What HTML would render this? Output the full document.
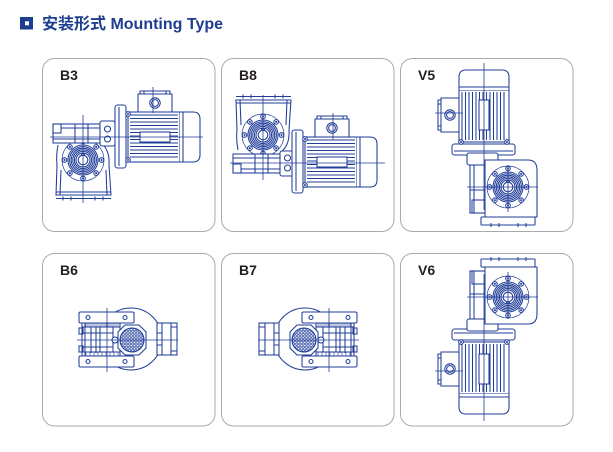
<!DOCTYPE html>
<html><head><meta charset="utf-8">
<style>
html,body{margin:0;padding:0;background:#fff;}
body{width:613px;height:452px;overflow:hidden;position:relative;}
svg{position:absolute;left:0;top:0;}
</style></head><body>
<svg width="613" height="452" viewBox="0 0 613 452" xmlns="http://www.w3.org/2000/svg">
<defs>
 <pattern id="mesh" width="3.2" height="3.2" patternUnits="userSpaceOnUse">
   <circle cx="1.6" cy="1.6" r="1.15" fill="none" stroke="#213d98" stroke-width="0.7"/>
 </pattern>
 <g id="bolt"><circle r="2.3" fill="#fff"/><circle r="1" fill="#213d98" stroke="none"/></g>
 <g id="gw">
  <circle r="21" fill="#fff" stroke-width="0.7"/>
  <circle r="15"/><circle r="13.4"/><circle r="11.8"/><circle r="10.2"/><circle r="8.6"/><circle r="7"/>
  <circle r="4.8"/>
  <path d="M-1.4 -4.6V-6.4H1.4V-4.6"/>
  <use href="#bolt" x="18.5" y="0"/><use href="#bolt" x="13.1" y="13.1"/>
  <use href="#bolt" x="0" y="18.5"/><use href="#bolt" x="-13.1" y="13.1"/>
  <use href="#bolt" x="-18.5" y="0"/><use href="#bolt" x="-13.1" y="-13.1"/>
  <use href="#bolt" x="0" y="-18.5"/><use href="#bolt" x="13.1" y="-13.1"/>
 </g>
 <g id="mh">
  <path d="M10 0V-18H12V-21H42V-18H44V0" fill="#fff"/>
  <path d="M12 -18H42M16 -21V-18M38 -21V-18"/>
  <circle cx="27" cy="-9" r="5.2"/><circle cx="27" cy="-9" r="3.4"/>
  <rect x="0" y="0" width="52" height="50" fill="#fff"/>
  <path d="M2 3H50M2 6.5H50M2 10H50M2 13.5H50M2 17H50M2 20.5H50M2 24H50M2 27.5H50M2 31H50M2 34.5H50M2 38H50M2 41.5H50M2 45H50"/>
  <rect x="12" y="20" width="30" height="10" fill="#fff"/>
  <path d="M52 0H65Q72 0 72 7V43Q72 50 65 50H52" fill="#fff"/>
  <path d="M55 0V50"/>
  <rect x="-13" y="-7" width="11" height="63" rx="2.5" fill="#fff"/>
  <path d="M-9 -5V54"/>
  <use href="#bolt" x="0" y="2"/><use href="#bolt" x="0" y="48"/>
 </g>
 <g id="wh">
  <rect x="-30" y="-13" width="47" height="19" fill="#fff"/>
  <rect x="-30" y="-13" width="8" height="9"/>
  <path d="M-22 -9H17M-30 2H17M-8 -13V6M5 -13V6"/>
  <rect x="17" y="-16" width="15" height="25" rx="2" fill="#fff"/>
  <circle cx="24.5" cy="-8" r="3"/><circle cx="24.5" cy="2" r="3"/>
 </g>
 <g id="hs">
  <path d="M-25 -15Q-27 -5 -26 5L-27 35H28L26 5Q27 -10 18 -17" fill="#fff"/>
  <path d="M-22 10L-23 35M23 10L24 35M-27 32H28"/>
  <path d="M-27 38.5H28M-20 36.5V40.5M-12 36.5V40.5M12 36.5V40.5M20 36.5V40.5"/>
 </g>
</defs>

<!-- title -->
<rect x="20" y="17" width="13" height="12.5" fill="#1d3e8f"/>
<rect x="25" y="21.3" width="4" height="4" fill="#fff"/>
<text x="42" y="29" font-family="'Liberation Sans','Noto Sans CJK SC',sans-serif" font-weight="bold" font-size="16" fill="#1d3e8f">安装形式 Mounting Type</text>

<!-- cards -->
<g fill="none" stroke="#aaaaaa" stroke-width="1">
 <rect x="42.5" y="58.5" width="172.5" height="173" rx="12"/>
 <rect x="221.5" y="58.5" width="172.5" height="173" rx="12"/>
 <rect x="400.5" y="58.5" width="172.5" height="173" rx="12"/>
 <rect x="42.5" y="253.5" width="172.5" height="172.5" rx="12"/>
 <rect x="221.5" y="253.5" width="172.5" height="172.5" rx="12"/>
 <rect x="400.5" y="253.5" width="172.5" height="172.5" rx="12"/>
</g>

<g font-family="'Liberation Sans',sans-serif" font-weight="bold" font-size="14" fill="#231f20">
 <text x="60" y="80">B3</text>
 <text x="239" y="80">B8</text>
 <text x="418" y="80">V5</text>
 <text x="60" y="275">B6</text>
 <text x="239" y="275">B7</text>
 <text x="418" y="275">V6</text>
</g>

<g fill="none" stroke="#213d98" stroke-width="1.05">
 <!-- B3 -->
 <use href="#hs" x="83" y="160"/>
 <use href="#gw" x="83" y="160"/>
 <use href="#wh" x="83" y="137"/>
 <use href="#mh" x="128" y="112"/>
 <path d="M50 137H203M83 115V203M153 87V113" stroke-width="0.8"/>

 <!-- B8 -->
 <g transform="translate(263,135) scale(1,-1)"><use href="#hs"/></g>
 <use href="#gw" x="263" y="135"/>
 <g transform="translate(263,160) scale(1,-1)"><use href="#wh"/></g>
 <use href="#mh" x="305" y="137"/>
 <path d="M230 163H385M263 95V180M333 113V140" stroke-width="0.8"/>

 <!-- V5 -->
 <g id="v5">
  <use href="#mh" transform="matrix(0,-1,1,0,459,142)"/>
  <rect x="467" y="153" width="31" height="12" rx="2" fill="#fff"/>
  <rect x="470" y="165" width="20" height="48" fill="#fff"/>
  <path d="M474 165V213M486 165V213M470 190H490"/>
  <rect x="472" y="200" width="13" height="13"/>
  <path d="M485 160H528Q537 160 537 170V217H485Z" fill="#fff"/>
  <path d="M481 217H537M481 225H535M481 217V225M535 217V225M491 223V227M499 223V227M518 223V227M526 223V227"/>
  <use href="#gw" x="508" y="187"/>
  <path d="M484 63V210M467 187H538M508 165V212M435 113H463" stroke-width="0.8"/>
 </g>
 <!-- V6 -->
 <use href="#v5" transform="translate(0,484) scale(1,-1)"/>

 <!-- B6 -->
 <g id="b6">
  <circle cx="131" cy="339" r="31" fill="#fff"/>
  <rect x="157" y="323" width="20" height="32" fill="#fff"/>
  <path d="M162 323V355M171 323V355M171 327H177M171 351H177M157 333H162M157 345H162"/>
  <rect x="82" y="323" width="38" height="33" fill="#fff"/>
  <path d="M85 323V356M91 327V353M96 327V353M82 327H120M82 352H120M82 333H100M82 347H100"/>
  <rect x="100" y="327" width="13" height="25"/>
  <path d="M100 333H113M100 347H113"/>
  <path d="M86 323V327M88 323V327M90 323V327M92 323V327M94 323V327M96 323V327M98 323V327M100 323V327M102 323V327M104 323V327M106 323V327M108 323V327M110 323V327M112 323V327M114 323V327M116 323V327M118 323V327M120 323V327" stroke-width="0.6"/>
  <path d="M86 352V356M90 352V356M94 352V356M98 352V356M102 352V356M106 352V356M110 352V356M114 352V356M118 352V356" stroke-width="0.6"/>
  <path d="M125 325H139L146 332V348L139 355H125L118 348V332Z" fill="#fff"/>
  <circle cx="132" cy="340" r="12" fill="url(#mesh)"/>
  <circle cx="115" cy="340" r="3" fill="#fff"/>
  <rect x="79" y="312" width="55" height="11" rx="1.5" fill="#fff"/>
  <rect x="79" y="356" width="55" height="11" rx="1.5" fill="#fff"/>
  <circle cx="88" cy="317.5" r="2"/><circle cx="125" cy="317.5" r="2"/>
  <circle cx="88" cy="361.5" r="2"/><circle cx="125" cy="361.5" r="2"/>
  <rect x="79" y="328" width="4" height="6"/><rect x="79" y="346" width="4" height="6"/>
  <path d="M77 340H178M107 308V372" stroke-width="0.8"/>
 </g>
 <!-- B7 -->
 <use href="#b6" transform="translate(436,0) scale(-1,1)"/>
</g>
</svg>
</body></html>
